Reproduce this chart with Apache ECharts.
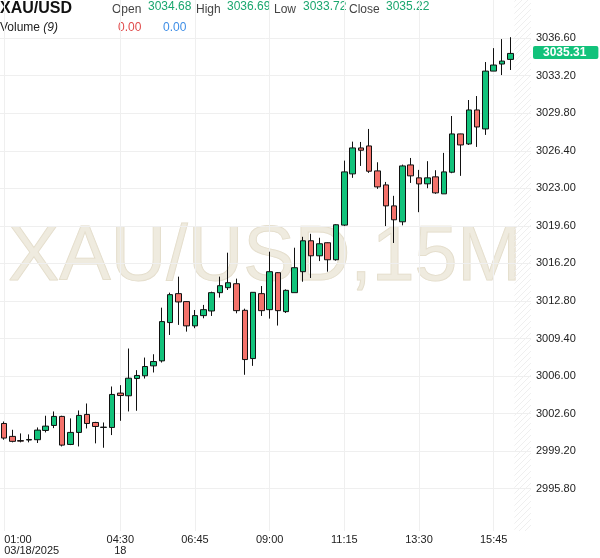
<!DOCTYPE html>
<html><head><meta charset="utf-8">
<script src="https://cdn.jsdelivr.net/npm/echarts@6/dist/echarts.min.js"></script>
<style>html,body{margin:0;padding:0;background:#fff}#c{width:600px;height:558px}</style>
</head><body><div id="c"></div>
<script>
const times = ['01:00','01:15','01:30','01:45','02:00','02:15','02:30','02:45','03:00','03:15','03:30','03:45','04:00','04:15','04:30','04:45','05:00','05:15','05:30','05:45','06:00','06:15','06:30','06:45','07:00','07:15','07:30','07:45','08:00','08:15','08:30','08:45','09:00','09:15','09:30','09:45','10:00','10:15','10:30','10:45','11:00','11:15','11:30','11:45','12:00','12:15','12:30','12:45','13:00','13:15','13:30','13:45','14:00','14:15','14:30','14:45','15:00','15:15','15:30','15:45','16:00','16:15'];
const futureSlots = ['16:30','16:45'];
const opens  = [3001.70,3000.53,3000.15,3000.20,3000.23,3001.07,3001.52,3002.34,2999.80,3000.89,3002.52,3001.79,3001.34,3001.34,3004.45,3004.21,3005.77,3006.02,3006.92,3007.37,3010.84,3013.46,3012.74,3010.54,3011.47,3011.89,3013.55,3014.00,3014.36,3011.95,3007.58,3013.46,3012.01,3015.36,3011.83,3013.55,3015.45,3018.25,3016.89,3018.07,3016.53,3019.67,3024.31,3026.66,3026.84,3024.58,3023.31,3021.41,3019.97,3025.12,3023.95,3023.41,3024.04,3022.50,3024.46,3027.93,3027.02,3030.10,3028.38,3033.62,3034.26,3034.68];
const closes = [3000.38,3000.08,3000.10,3000.25,3001.10,3001.46,3002.34,2999.74,3000.89,3002.43,3001.70,3001.43,3001.37,3004.33,3004.23,3005.80,3006.05,3006.86,3007.31,3010.93,3013.37,3012.71,3010.54,3011.47,3012.01,3013.55,3014.18,3014.45,3011.92,3007.49,3013.58,3011.92,3015.45,3011.92,3013.76,3015.81,3018.25,3016.89,3017.98,3016.53,3019.70,3024.49,3026.66,3026.45,3024.55,3023.13,3021.41,3020.15,3025.03,3024.13,3023.40,3023.95,3022.59,3024.49,3027.93,3026.93,3030.10,3028.56,3033.62,3034.17,3034.53,3035.22];
const lows   = [3000.23,2999.99,2999.99,2999.99,2999.93,3000.89,3001.28,2999.62,2999.74,2999.62,3001.25,2999.90,2999.50,3000.65,3001.94,3002.79,3002.85,3005.77,3006.32,3007.22,3009.72,3010.63,3010.02,3010.33,3011.23,3011.44,3013.10,3013.79,3011.68,3006.11,3006.92,3011.44,3011.20,3010.57,3011.71,3013.55,3014.54,3014.88,3016.41,3015.45,3016.45,3019.58,3023.95,3025.03,3024.40,3022.95,3019.58,3018.05,3019.65,3023.49,3020.84,3023.01,3022.50,3022.50,3024.37,3024.13,3026.93,3026.75,3027.84,3033.62,3033.26,3033.72];
const highs  = [3001.88,3001.13,3000.80,3000.71,3001.34,3002.40,3002.79,3002.40,3002.16,3002.88,3003.51,3001.85,3001.79,3005.05,3005.17,3008.49,3006.53,3007.67,3007.97,3012.19,3013.55,3015.00,3012.77,3011.98,3012.44,3013.64,3015.00,3017.17,3014.82,3012.10,3013.58,3014.15,3017.26,3015.40,3013.85,3017.62,3018.61,3018.88,3018.52,3018.10,3019.75,3025.51,3027.23,3027.20,3028.38,3025.36,3023.58,3022.32,3025.15,3025.75,3024.67,3025.46,3024.64,3026.21,3029.55,3027.95,3031.00,3031.36,3034.44,3035.70,3036.52,3036.69];
const yTicks = [2995.8,2999.2,3002.6,3006.0,3009.4,3012.8,3016.2,3019.6,3023.0,3026.4,3029.8,3033.2,3036.6];
const xTickTimes = ['01:00','04:30','06:45','09:00','11:15','13:30','15:45'];
const xTickSub   = ['03/18/2025','18','','','','',''];
const lastPrice = 3035.31;
const header = {open:3034.68, high:3036.69, low:3033.72, close:3035.22};

const GREEN = '#12c27b', RED = '#f4726b';
const FONT = "'Liberation Sans', Arial, sans-serif";
const allCats = times.concat(futureSlots);
const candleData = times.map((t,i)=>[opens[i],closes[i],lows[i],highs[i]]);
const tickIdx = new Set(xTickTimes.map(t=>allCats.indexOf(t)));

const chart = echarts.init(document.getElementById('c'));
chart.setOption({
  animation:false,
  textStyle:{fontFamily:FONT},
  grid:{left:-2.5, right:69, top:0, bottom:27},
  xAxis:{type:'category', data:allCats, boundaryGap:true,
    axisLine:{show:false}, axisTick:{show:false},
    axisLabel:{interval:(i)=>tickIdx.has(i), alignMinLabel:'left', color:'#222', fontSize:11, lineHeight:11, margin:3,
      formatter:(v)=>{const j=xTickTimes.indexOf(v); return xTickSub[j]? v+'\n'+xTickSub[j] : v;}},
    splitLine:{show:true, interval:(i)=>tickIdx.has(i), alignWithLabel:true, lineStyle:{color:'#efefef', width:1}}
  },
  yAxis:{type:'value', position:'right', min:2991.96, max:3040.06,
    axisLine:{show:false}, axisTick:{show:false, customValues:yTicks},
    axisLabel:{customValues:yTicks, formatter:(v)=>v.toFixed(2), color:'#222', fontSize:11, margin:5, padding:[0,0,3,0]},
    splitLine:{show:true, lineStyle:{color:'#efefef', width:1}}
  },
  graphic:[
    {id:'wm', type:'text', z:-10, silent:true, x:8, y:258.5, style:{text:'XAU/USD,15M', font:"77px "+FONT, fill:'rgba(234,228,212,0.75)', stroke:'#e2dbc9', lineWidth:1, textVerticalAlign:'middle'}},
    {id:'h0', type:'text', x:0, y:9, style:{text:'XAU/USD', font:"bold 16px "+FONT, fill:'#111', textVerticalAlign:'middle'}},
    {id:'h1', type:'text', x:112, y:10, style:{text:'Open', font:"12px "+FONT, fill:'#444', textVerticalAlign:'middle'}},
    {id:'h2', type:'text', x:148, y:7, style:{text:header.open.toFixed(2), font:"12px "+FONT, fill:'#1aa66e', textVerticalAlign:'middle'}},
    {id:'h3', type:'text', x:196, y:10, style:{text:'High', font:"12px "+FONT, fill:'#444', textVerticalAlign:'middle'}},
    {id:'h4', type:'text', x:227, y:7, style:{text:header.high.toFixed(2), font:"12px "+FONT, fill:'#1aa66e', textVerticalAlign:'middle'}},
    {id:'h5', type:'text', x:274, y:10, style:{text:'Low', font:"12px "+FONT, fill:'#444', textVerticalAlign:'middle'}},
    {id:'h6', type:'text', x:303, y:7, style:{text:header.low.toFixed(2), font:"12px "+FONT, fill:'#1aa66e', textVerticalAlign:'middle'}},
    {id:'h7', type:'text', x:349, y:10, style:{text:'Close', font:"12px "+FONT, fill:'#444', textVerticalAlign:'middle'}},
    {id:'h8', type:'text', x:386, y:7, style:{text:header.close.toFixed(2), font:"12px "+FONT, fill:'#1aa66e', textVerticalAlign:'middle'}},
    {id:'h9', type:'text', x:0, y:28, style:{text:'Volume {i|(9)}', font:"12px "+FONT, fill:'#222', textVerticalAlign:'middle', rich:{i:{fontStyle:'italic', fontSize:12, fontFamily:FONT, fill:'#222'}}}},
    {id:'h10', type:'text', x:118, y:28, style:{text:'0.00', font:"12px "+FONT, fill:'#e04b4b', textVerticalAlign:'middle'}},
    {id:'h11', type:'text', x:163, y:28, style:{text:'0.00', font:"12px "+FONT, fill:'#3f8ee6', textVerticalAlign:'middle'}}
  ],
  series:[{
    type:'candlestick', data:candleData, barWidth:6,
    itemStyle:{color:GREEN, color0:RED, borderColor:'#111', borderColor0:'#111', borderWidth:1},
    markLine:{silent:true, symbol:['none','none'], data:[{yAxis:lastPrice}], lineStyle:{color:'rgba(0,0,0,0)', width:1, type:'solid'},
      label:{show:true, position:'end', distance:2, formatter:lastPrice.toFixed(2), color:'#fff', fontWeight:'bold', fontSize:12, fontFamily:FONT, backgroundColor:GREEN, padding:[1,12,0,10], lineHeight:12, borderRadius:2}}
  }]
});

// hatched "future" zone after the last candle
const pc = document.createElement('canvas'); pc.width = 6; pc.height = 6;
const g = pc.getContext('2d'); g.strokeStyle = '#efefef'; g.lineWidth = 1;
g.beginPath(); g.moveTo(0,6); g.lineTo(6,0); g.moveTo(-1,1); g.lineTo(1,-1); g.moveTo(5,7); g.lineTo(7,5); g.stroke();
const c0 = chart.convertToPixel({xAxisIndex:0}, 0), c1 = chart.convertToPixel({xAxisIndex:0}, 1);
const band = c1 - c0;
const xStart = chart.convertToPixel({xAxisIndex:0}, times.length-1) + band/2;
const xEnd = chart.convertToPixel({xAxisIndex:0}, allCats.length-1) + band/2;
const yTop = chart.convertToPixel({yAxisIndex:0}, 3040.06), yBot = chart.convertToPixel({yAxisIndex:0}, 2991.96);
chart.setOption({graphic:[{id:'hatch', type:'rect', z:-5, silent:true, shape:{x:xStart, y:yTop, width:xEnd-xStart, height:yBot-yTop}, style:{fill:{image:pc, repeat:'repeat'}}}]});
</script></body></html>
